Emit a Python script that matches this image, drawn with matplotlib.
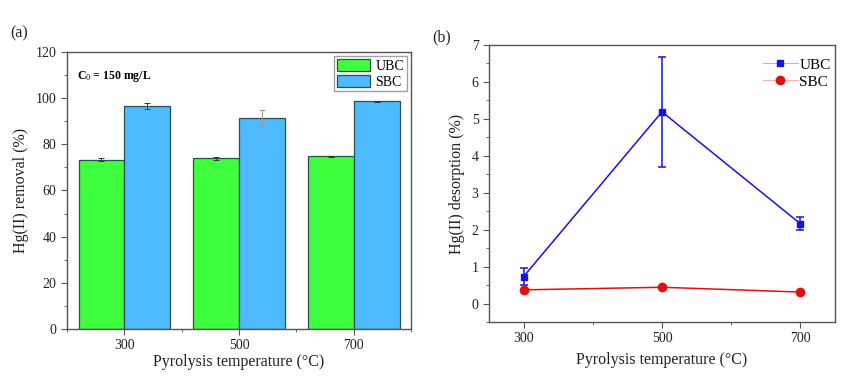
import matplotlib
matplotlib.use('Agg')
import matplotlib.pyplot as plt
from matplotlib.ticker import MultipleLocator
from matplotlib.lines import Line2D
import numpy as np

plt.rcParams['font.family'] = ['Liberation Serif', 'DejaVu Serif']
plt.rcParams['mathtext.fontset'] = 'custom'
plt.rcParams['mathtext.rm'] = 'Liberation Serif'
plt.rcParams['mathtext.it'] = 'Liberation Serif:italic'
plt.rcParams['mathtext.bf'] = 'Liberation Serif:bold'

# 数据
temps = [300, 500, 700]
removal_ubc = [73.3, 74.0, 74.8]
removal_ubc_err = [0.7, 0.6, 0.3]
removal_sbc = [96.6, 91.4, 98.6]
removal_sbc_err = [1.2, 3.3, 0.2]

desorp_ubc = [0.73, 5.19, 2.16]
desorp_ubc_err = [0.24, 1.49, 0.17]
desorp_sbc = [0.37, 0.44, 0.31]

spine_c = '#555555'
txt_c = '#222222'

fig = plt.figure(figsize=(8.65, 3.9), dpi=100)
ax1 = fig.add_axes([0.0775, 0.1564, 0.3977, 0.7103])
ax2 = fig.add_axes([0.5653, 0.1744, 0.40, 0.7103])

# (a) 柱状图
w = 80
x = np.array(temps)
ax1.bar(x - w/2, removal_ubc, w, color='#3dff3d', edgecolor='#2f4f4f', linewidth=0.9, label='UBC')
ax1.bar(x + w/2, removal_sbc, w, color='#4fbbff', edgecolor='#2f4f4f', linewidth=0.9, label='SBC')
ax1.errorbar(x - w/2, removal_ubc, yerr=removal_ubc_err, fmt='none', ecolor='#333333', elinewidth=0.7, capsize=2.5, capthick=0.7)
ecols = ['#333333', '#999999', '#333333']
for xi, yi, ei, c in zip(x + w/2, removal_sbc, removal_sbc_err, ecols):
    ax1.errorbar(xi, yi, yerr=ei, fmt='none', ecolor=c, elinewidth=0.7, capsize=2.5, capthick=0.7)
ax1.set_xlim(200, 800)
ax1.set_ylim(0, 120)
ax1.set_xticks(temps)
ax1.xaxis.set_minor_locator(MultipleLocator(100))
ax1.yaxis.set_major_locator(MultipleLocator(20))
ax1.yaxis.set_minor_locator(MultipleLocator(10))
ax1.set_xlabel('Pyrolysis temperature (°C)', fontsize=11.5, color=txt_c, labelpad=1)
ax1.set_ylabel('Hg(II) removal (%)', fontsize=11.5, color=txt_c, labelpad=5)
ax1.text(0.03, 0.94, r'$\mathbf{C}_{\mathit{0}}$ = 150 mg/L', transform=ax1.transAxes,
         fontsize=8.5, fontweight='bold', va='top', ha='left')
ax1.legend(loc='upper right', fontsize=10, frameon=True, fancybox=False, edgecolor='#888888',
           handlelength=2.4, handleheight=1.0, borderpad=0.2, labelspacing=0.12,
           handletextpad=0.4, borderaxespad=0.3)
fig.text(0.012, 0.905, '(a)', fontsize=11.5, color=txt_c)

# (b) 折线图
ax2.errorbar(temps, desorp_ubc, yerr=desorp_ubc_err, color='#1414e0', marker='s', markersize=5,
             linewidth=1.1, elinewidth=1.1, capsize=3, capthick=1.1, label='UBC')
ax2.plot(temps, desorp_sbc, color='#e01010', marker='o', markersize=6, linewidth=1.1, label='SBC')
ax2.set_xlim(250, 750)
ax2.set_ylim(-0.5, 7)
ax2.set_xticks(temps)
ax2.xaxis.set_minor_locator(MultipleLocator(100))
ax2.yaxis.set_major_locator(MultipleLocator(1))
ax2.yaxis.set_minor_locator(MultipleLocator(0.5))
ax2.set_xlabel('Pyrolysis temperature (°C)', fontsize=11.5, color=txt_c, labelpad=5)
ax2.set_ylabel('Hg(II) desorption (%)', fontsize=11.5, color=txt_c, labelpad=5)
hdl = [Line2D([], [], color='#b0b0ff', marker='s', markerfacecolor='#1414e0', markeredgecolor='#1414e0',
              markersize=5, linewidth=0.8),
       Line2D([], [], color='#ffb0b0', marker='o', markerfacecolor='#e01010', markeredgecolor='#e01010',
              markersize=6, linewidth=0.8)]
ax2.legend(hdl, ['UBC', 'SBC'], loc='upper right', fontsize=11, frameon=False,
           handlelength=2.3, labelspacing=0.22, handletextpad=0.1, borderaxespad=0,
           bbox_to_anchor=(1.005, 0.975))
fig.text(0.5, 0.893, '(b)', fontsize=11.5, color=txt_c)

for ax in (ax1, ax2):
    for s in ax.spines.values():
        s.set_color(spine_c)
        s.set_linewidth(1.0)
    ax.tick_params(which='both', direction='out', color=spine_c, top=False, right=False)
    ax.tick_params(which='major', length=4, labelsize=10, labelcolor=txt_c)
    ax.tick_params(which='minor', length=2.5)

fig.savefig('out.png', dpi=100)
